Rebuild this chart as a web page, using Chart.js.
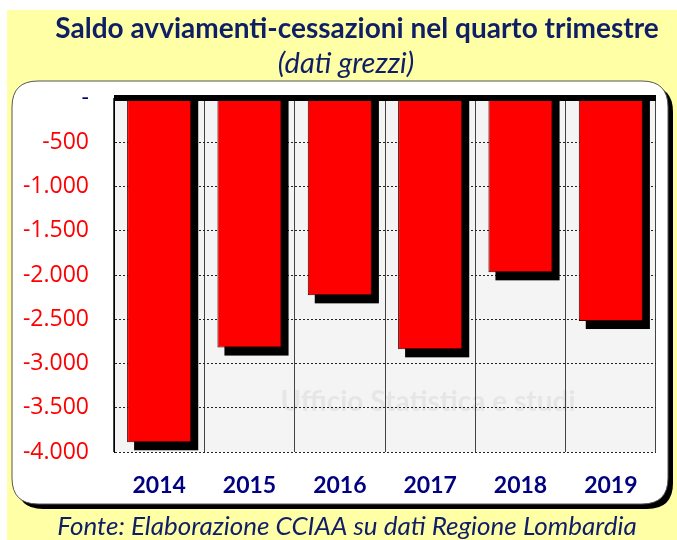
<!DOCTYPE html>
<html>
<head>
<meta charset="utf-8">
<script src="https://cdn.jsdelivr.net/npm/chart.js@4/dist/chart.umd.min.js"></script>
<style>
  html, body { margin: 0; padding: 0; background: #fff; }
  canvas { display: block; }
</style>
</head>
<body>
<canvas id="saldoChart" width="677" height="540"></canvas>
<script>
// Saldo avviamenti-cessazioni, quarto trimestre
const years = ['2014', '2015', '2016', '2017', '2018', '2019'];
const saldo = [-3890, -2820, -2230, -2840, -1970, -2520];
const yTicks = [0, -500, -1000, -1500, -2000, -2500, -3000, -3500, -4000];

const titleText = 'Saldo avviamenti-cessazioni nel quarto trimestre';
const subtitleText = '(dati grezzi)';
const footerText = 'Fonte: Elaborazione CCIAA su dati Regione Lombardia';
const watermarkText = 'Ufficio Statistica e studi';

const NAVY = '#0f1f66';
const FONT = 'Lato, "Open Sans", sans-serif';
const TICK_FONT = '"Open Sans", Lato, sans-serif';

// italian style thousands, zero shown as a dash
function fmt(v) {
  if (v === 0) return '-';
  const s = Math.abs(v).toString().replace(/\B(?=(\d{3})+(?!\d))/g, '.');
  return (v < 0 ? '-' : '') + s;
}

function roundRect(ctx, x, y, w, h, r) {
  ctx.beginPath();
  ctx.moveTo(x + r, y);
  ctx.lineTo(x + w - r, y);
  ctx.quadraticCurveTo(x + w, y, x + w, y + r);
  ctx.lineTo(x + w, y + h - r);
  ctx.quadraticCurveTo(x + w, y + h, x + w - r, y + h);
  ctx.lineTo(x + r, y + h);
  ctx.quadraticCurveTo(x, y + h, x, y + h - r);
  ctx.lineTo(x, y + r);
  ctx.quadraticCurveTo(x, y, x + r, y);
  ctx.closePath();
}

// frame, panel, titles and plot background
const framePlugin = {
  id: 'frame',
  beforeDraw(chart) {
    const { ctx, chartArea: a } = chart;
    ctx.save();
    ctx.fillStyle = '#ffffff';
    ctx.fillRect(0, 0, chart.width, chart.height);
    ctx.fillStyle = '#ffffa6';
    ctx.fillRect(7, 10, chart.width - 7, chart.height - 10);

    // panel with drop shadow
    roundRect(ctx, 17, 86, 656, 423, 26);
    ctx.fillStyle = '#000';
    ctx.fill();
    roundRect(ctx, 12, 81, 656, 423, 26);
    ctx.fillStyle = '#fff';
    ctx.fill();
    ctx.lineWidth = 1;
    ctx.strokeStyle = '#555';
    ctx.stroke();

    ctx.fillStyle = '#f4f4f4';
    ctx.fillRect(a.left, a.top, a.right - a.left, a.bottom - a.top);

    ctx.font = 'bold 28px ' + FONT;
    ctx.fillStyle = 'rgba(150,150,150,0.14)';
    ctx.textAlign = 'center';
    ctx.textBaseline = 'middle';
    ctx.fillText(watermarkText, 428, 402);

    ctx.fillStyle = NAVY;
    ctx.font = 'bold 28px ' + FONT;
    ctx.fillText(titleText, 357, 29);
    ctx.font = 'italic 29px ' + FONT;
    ctx.fillText(subtitleText, 346, 64);
    ctx.font = 'italic 26px ' + FONT;
    ctx.fillText(footerText, 347, 527);
    ctx.restore();
  }
};

// black offset shadow behind each bar
const barShadowPlugin = {
  id: 'barShadow',
  beforeDatasetsDraw(chart) {
    const { ctx, chartArea: a } = chart;
    const meta = chart.getDatasetMeta(0);
    ctx.save();
    ctx.beginPath();
    ctx.rect(a.left, a.top, a.right - a.left, a.bottom - a.top);
    ctx.clip();
    ctx.fillStyle = '#000';
    meta.data.forEach(bar => {
      const p = bar.getProps(['x', 'y', 'base', 'width'], true);
      ctx.fillRect(p.x - p.width / 2 + 7, p.base, p.width, p.y - p.base + 8);
    });
    ctx.restore();
  }
};

// thick zero line over the bars
const zeroLinePlugin = {
  id: 'zeroLine',
  afterDatasetsDraw(chart) {
    const { ctx, chartArea: a, scales } = chart;
    const y0 = scales.y.getPixelForValue(0);
    ctx.save();
    ctx.fillStyle = '#000';
    ctx.fillRect(a.left, y0 - 3, a.right - a.left, 6);
    ctx.restore();
  }
};

const ctx = document.getElementById('saldoChart');
new Chart(ctx, {
  type: 'bar',
  data: {
    labels: years,
    datasets: [{
      label: 'Saldo',
      data: saldo,
      backgroundColor: '#ff0000',
      borderColor: '#3a0000',
      borderWidth: 1,
      barPercentage: 0.71,
      categoryPercentage: 1
    }]
  },
  options: {
    responsive: false,
    animation: false,
    layout: { padding: { top: 98, right: 21, bottom: 0, left: 0 } },
    plugins: {
      legend: { display: false },
      tooltip: { enabled: false }
    },
    scales: {
      x: {
        afterFit: scale => { scale.height = 88; },
        grid: { color: '#444', lineWidth: 1, drawTicks: false, offset: true },
        border: { display: false },
        ticks: {
          padding: 20,
          color: '#000080',
          font: { family: FONT, size: 23, weight: 'bold' }
        }
      },
      y: {
        min: -4000,
        max: 0,
        afterFit: scale => { scale.width = 114; },
        afterBuildTicks: scale => { scale.ticks = yTicks.map(v => ({ value: v })); },
        grid: {
          color: ctx => ctx.tick && ctx.tick.value === 0 ? 'rgba(0,0,0,0)' : '#222',
          lineWidth: 1,
          drawTicks: false
        },
        border: { display: true, color: '#000', width: 1, dash: [2, 2] },
        ticks: {
          padding: 25,
          callback: v => fmt(v),
          color: ctx => ctx.tick && ctx.tick.value === 0 ? '#000080' : '#ff0000',
          font: { family: TICK_FONT, size: 23 }
        }
      }
    }
  },
  plugins: [framePlugin, barShadowPlugin, zeroLinePlugin]
});
</script>
</body>
</html>
